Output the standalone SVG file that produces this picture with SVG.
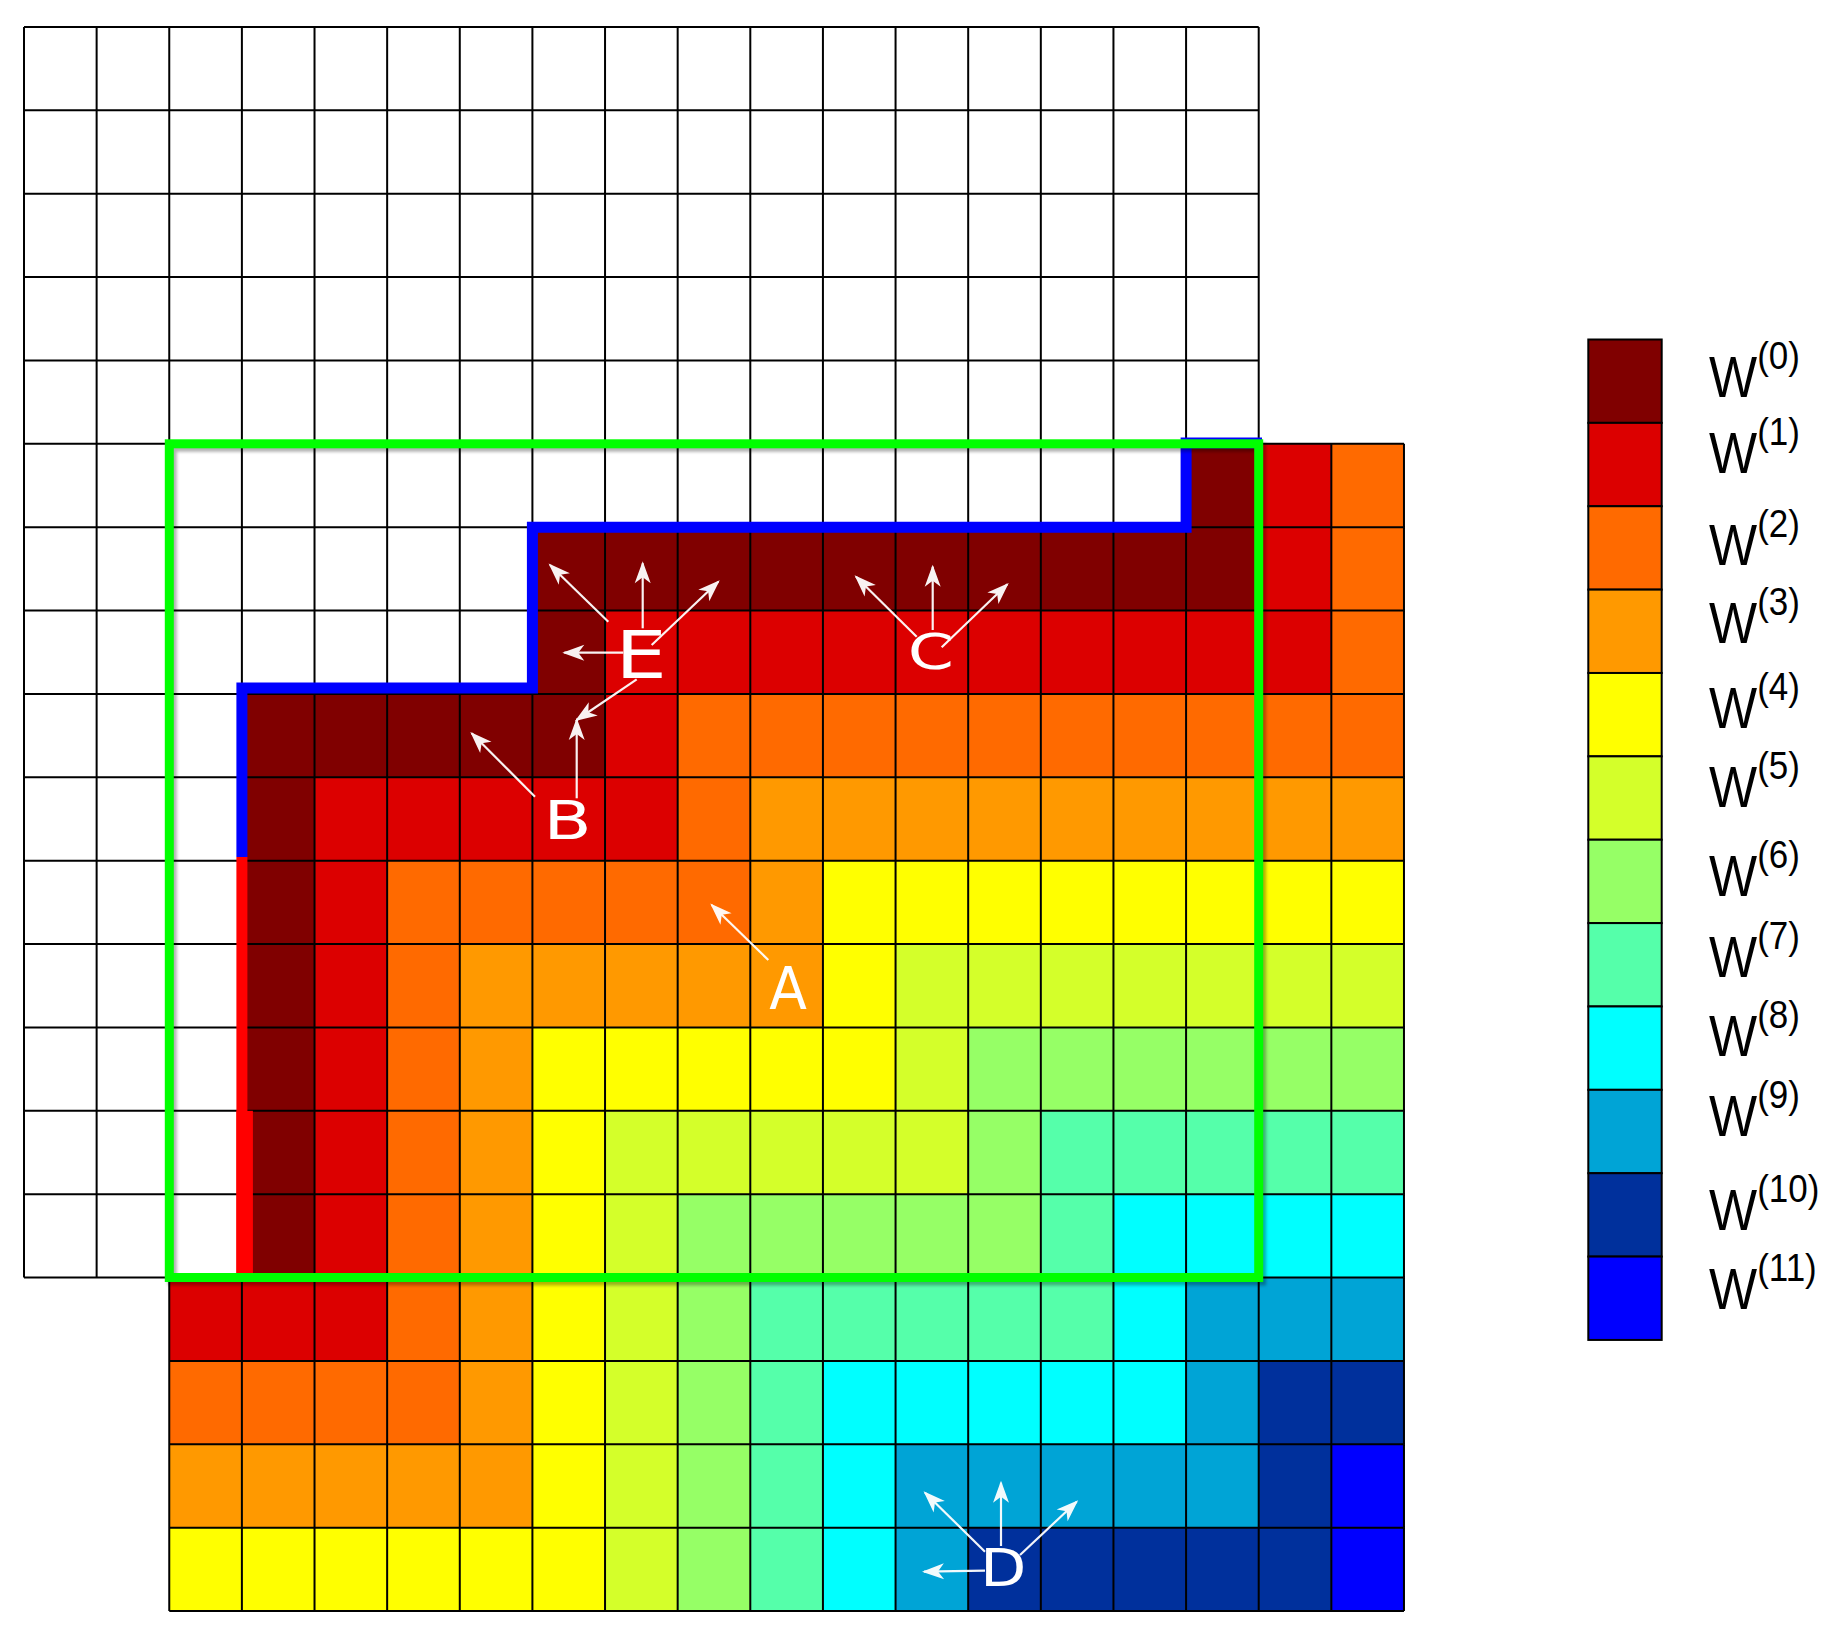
<svg xmlns="http://www.w3.org/2000/svg" width="1843" height="1641" viewBox="0 0 1843 1641">
<style>
.c0{fill:#800000}.c1{fill:#dc0000}.c2{fill:#ff6a00}.c3{fill:#ff9900}.c4{fill:#ffff00}.c5{fill:#d4ff2a}
.c6{fill:#96ff66}.c7{fill:#55ffaa}.c8{fill:#00ffff}.c9{fill:#00a4d6}.c10{fill:#00309c}.c11{fill:#0000ff}
.grid{fill:none;stroke:#000;stroke-width:2;vector-effect:non-scaling-stroke}
.arr{stroke:#fff;stroke-width:2.2;fill:none;marker-end:url(#ah);opacity:0.95}
.lbl{fill:#fff;font-family:"DejaVu Sans",sans-serif;text-anchor:middle}
.leg{font-family:"Liberation Sans",Arial,sans-serif;font-size:51px;fill:#000}
.sup{font-size:35px}
.sw{stroke:#000;stroke-width:2}
</style>
<defs>
<marker id="ah" markerUnits="userSpaceOnUse" orient="auto" refX="0" refY="0" markerWidth="30" markerHeight="30" overflow="visible">
<path d="M2,0 L-20,-8 L-14,0 L-20,8 Z" fill="#fff"/>
</marker>
<filter id="sh" x="-5%" y="-5%" width="110%" height="110%"><feGaussianBlur stdDeviation="1.5"/></filter>
</defs>
<rect width="1843" height="1641" fill="#fff"/>
<g id="grid" transform="translate(24 27) scale(72.63 83.37)">
<g id="cells">
<rect x="16" y="5" width="1" height="1" class="c0"/><rect x="17" y="5" width="1" height="1" class="c1"/><rect x="18" y="5" width="1" height="1" class="c2"/>
<rect x="7" y="6" width="10" height="1" class="c0"/><rect x="17" y="6" width="1" height="1" class="c1"/><rect x="18" y="6" width="1" height="1" class="c2"/>
<rect x="7" y="7" width="1" height="1" class="c0"/><rect x="8" y="7" width="10" height="1" class="c1"/><rect x="18" y="7" width="1" height="1" class="c2"/>
<rect x="3" y="8" width="5" height="1" class="c0"/><rect x="8" y="8" width="1" height="1" class="c1"/><rect x="9" y="8" width="10" height="1" class="c2"/>
<rect x="3" y="9" width="1" height="1" class="c0"/><rect x="4" y="9" width="5" height="1" class="c1"/><rect x="9" y="9" width="1" height="1" class="c2"/><rect x="10" y="9" width="9" height="1" class="c3"/>
<rect x="3" y="10" width="1" height="1" class="c0"/><rect x="4" y="10" width="1" height="1" class="c1"/><rect x="5" y="10" width="5" height="1" class="c2"/><rect x="10" y="10" width="1" height="1" class="c3"/><rect x="11" y="10" width="8" height="1" class="c4"/>
<rect x="3" y="11" width="1" height="1" class="c0"/><rect x="4" y="11" width="1" height="1" class="c1"/><rect x="5" y="11" width="1" height="1" class="c2"/><rect x="6" y="11" width="5" height="1" class="c3"/><rect x="11" y="11" width="1" height="1" class="c4"/><rect x="12" y="11" width="7" height="1" class="c5"/>
<rect x="3" y="12" width="1" height="1" class="c0"/><rect x="4" y="12" width="1" height="1" class="c1"/><rect x="5" y="12" width="1" height="1" class="c2"/><rect x="6" y="12" width="1" height="1" class="c3"/><rect x="7" y="12" width="5" height="1" class="c4"/><rect x="12" y="12" width="1" height="1" class="c5"/><rect x="13" y="12" width="6" height="1" class="c6"/>
<rect x="3" y="13" width="1" height="1" class="c0"/><rect x="4" y="13" width="1" height="1" class="c1"/><rect x="5" y="13" width="1" height="1" class="c2"/><rect x="6" y="13" width="1" height="1" class="c3"/><rect x="7" y="13" width="1" height="1" class="c4"/><rect x="8" y="13" width="5" height="1" class="c5"/><rect x="13" y="13" width="1" height="1" class="c6"/><rect x="14" y="13" width="5" height="1" class="c7"/>
<rect x="3" y="14" width="1" height="1" class="c0"/><rect x="4" y="14" width="1" height="1" class="c1"/><rect x="5" y="14" width="1" height="1" class="c2"/><rect x="6" y="14" width="1" height="1" class="c3"/><rect x="7" y="14" width="1" height="1" class="c4"/><rect x="8" y="14" width="1" height="1" class="c5"/><rect x="9" y="14" width="5" height="1" class="c6"/><rect x="14" y="14" width="1" height="1" class="c7"/><rect x="15" y="14" width="4" height="1" class="c8"/>
<rect x="2" y="15" width="3" height="1" class="c1"/><rect x="5" y="15" width="1" height="1" class="c2"/><rect x="6" y="15" width="1" height="1" class="c3"/><rect x="7" y="15" width="1" height="1" class="c4"/><rect x="8" y="15" width="1" height="1" class="c5"/><rect x="9" y="15" width="1" height="1" class="c6"/><rect x="10" y="15" width="5" height="1" class="c7"/><rect x="15" y="15" width="1" height="1" class="c8"/><rect x="16" y="15" width="3" height="1" class="c9"/>
<rect x="2" y="16" width="4" height="1" class="c2"/><rect x="6" y="16" width="1" height="1" class="c3"/><rect x="7" y="16" width="1" height="1" class="c4"/><rect x="8" y="16" width="1" height="1" class="c5"/><rect x="9" y="16" width="1" height="1" class="c6"/><rect x="10" y="16" width="1" height="1" class="c7"/><rect x="11" y="16" width="5" height="1" class="c8"/><rect x="16" y="16" width="1" height="1" class="c9"/><rect x="17" y="16" width="2" height="1" class="c10"/>
<rect x="2" y="17" width="5" height="1" class="c3"/><rect x="7" y="17" width="1" height="1" class="c4"/><rect x="8" y="17" width="1" height="1" class="c5"/><rect x="9" y="17" width="1" height="1" class="c6"/><rect x="10" y="17" width="1" height="1" class="c7"/><rect x="11" y="17" width="1" height="1" class="c8"/><rect x="12" y="17" width="5" height="1" class="c9"/><rect x="17" y="17" width="1" height="1" class="c10"/><rect x="18" y="17" width="1" height="1" class="c11"/>
<rect x="2" y="18" width="6" height="1" class="c4"/><rect x="8" y="18" width="1" height="1" class="c5"/><rect x="9" y="18" width="1" height="1" class="c6"/><rect x="10" y="18" width="1" height="1" class="c7"/><rect x="11" y="18" width="1" height="1" class="c8"/><rect x="12" y="18" width="1" height="1" class="c9"/><rect x="13" y="18" width="5" height="1" class="c10"/><rect x="18" y="18" width="1" height="1" class="c11"/>
</g>
<path class="grid" d="M0 0V15M1 0V15M2 0V19M3 0V19M4 0V19M5 0V19M6 0V19M7 0V19M8 0V19M9 0V19M10 0V19M11 0V19M12 0V19M13 0V19M14 0V19M15 0V19M16 0V19M17 0V19M18 5V19M19 5V19
M0 0H17M0 1H17M0 2H17M0 3H17M0 4H17M0 5H19M0 6H19M0 7H19M0 8H19M0 9H19M0 10H19M0 11H19M0 12H19M0 13H19M0 14H19M0 15H19M2 16H19M2 17H19M2 18H19M2 19H19"/>
</g>
<g id="boundaries">
<path id="blue-front" d="M241.9 857V688H532.4V527.2H1186.1V443H1262" fill="none" stroke="#0000ff" stroke-width="11" stroke-linejoin="miter"/>
<path id="red-wall" d="M241.9 857V1277" fill="none" stroke="#ff0000" stroke-width="11"/>
<rect x="236.4" y="1110.8" width="16.5" height="166.7" fill="#ff0000"/>
<rect x="172.3" y="447.3" width="1089.4" height="833.7" fill="none" stroke="#000" stroke-opacity="0.3" stroke-width="9" filter="url(#sh)"/>
<rect id="green-box" x="169.3" y="443.8" width="1089.4" height="833.7" fill="none" stroke="#00ff00" stroke-width="9"/>
</g>
<g id="connectors">
<line class="arr" x1="608.3" y1="621.7" x2="550" y2="565"/>
<line class="arr" x1="642.7" y1="628.3" x2="642.7" y2="563.3"/>
<line class="arr" x1="651.7" y1="645" x2="718.3" y2="581.7"/>
<line class="arr" x1="623.3" y1="652.7" x2="564.3" y2="652.7"/>
<line class="arr" x1="636.7" y1="679.3" x2="576.7" y2="720"/>
<line class="arr" x1="535" y1="796.7" x2="471.7" y2="733.3"/>
<line class="arr" x1="576.7" y1="798.3" x2="576.7" y2="720"/>
<line class="arr" x1="916.7" y1="636.7" x2="856" y2="576.7"/>
<line class="arr" x1="932.7" y1="630" x2="932.7" y2="566.7"/>
<line class="arr" x1="941.7" y1="647.3" x2="1007.3" y2="584.3"/>
<line class="arr" x1="768.3" y1="960" x2="711.7" y2="905"/>
<line class="arr" x1="985" y1="1551.7" x2="925" y2="1492.7"/>
<line class="arr" x1="1001" y1="1546" x2="1001" y2="1482.7"/>
<line class="arr" x1="1020" y1="1555" x2="1076.7" y2="1501.7"/>
<line class="arr" x1="985" y1="1570.7" x2="924" y2="1571.7"/>
</g>
<g id="labels">
<g id="label-E"><text class="lbl" font-size="66" transform="translate(641.2 678.3) scale(1.23 1)">E</text></g>
<g id="label-B"><text class="lbl" font-size="54" transform="translate(567.5 839.3) scale(1.3 1)">B</text></g>
<g id="label-C"><text class="lbl" font-size="49" transform="translate(930.8 669) scale(1.35 1)">C</text></g>
<g id="label-A"><text class="lbl" font-size="58" transform="translate(788 1009.3) scale(0.95 1)">A</text></g>
<g id="label-D"><text class="lbl" font-size="52" transform="translate(1003.3 1586) scale(1.15 1)">D</text></g>
</g>
<g id="legend">
<rect class="c0 sw" x="1588.3" y="339.5" width="73.4" height="83.37"/>
<rect class="c1 sw" x="1588.3" y="422.87" width="73.4" height="83.37"/>
<rect class="c2 sw" x="1588.3" y="506.24" width="73.4" height="83.37"/>
<rect class="c3 sw" x="1588.3" y="589.61" width="73.4" height="83.37"/>
<rect class="c4 sw" x="1588.3" y="672.98" width="73.4" height="83.37"/>
<rect class="c5 sw" x="1588.3" y="756.35" width="73.4" height="83.37"/>
<rect class="c6 sw" x="1588.3" y="839.72" width="73.4" height="83.37"/>
<rect class="c7 sw" x="1588.3" y="923.09" width="73.4" height="83.37"/>
<rect class="c8 sw" x="1588.3" y="1006.46" width="73.4" height="83.37"/>
<rect class="c9 sw" x="1588.3" y="1089.83" width="73.4" height="83.37"/>
<rect class="c10 sw" x="1588.3" y="1173.2" width="73.4" height="83.37"/>
<rect class="c11 sw" x="1588.3" y="1256.57" width="73.4" height="83.37"/>
<text class="leg" transform="translate(1709 397) scale(1 1.115)">W<tspan class="sup" dy="-25">(0)</tspan></text>
<text class="leg" transform="translate(1709 473) scale(1 1.115)">W<tspan class="sup" dy="-25">(1)</tspan></text>
<text class="leg" transform="translate(1709 565) scale(1 1.115)">W<tspan class="sup" dy="-25">(2)</tspan></text>
<text class="leg" transform="translate(1709 643) scale(1 1.115)">W<tspan class="sup" dy="-25">(3)</tspan></text>
<text class="leg" transform="translate(1709 728) scale(1 1.115)">W<tspan class="sup" dy="-25">(4)</tspan></text>
<text class="leg" transform="translate(1709 807) scale(1 1.115)">W<tspan class="sup" dy="-25">(5)</tspan></text>
<text class="leg" transform="translate(1709 896) scale(1 1.115)">W<tspan class="sup" dy="-25">(6)</tspan></text>
<text class="leg" transform="translate(1709 977) scale(1 1.115)">W<tspan class="sup" dy="-25">(7)</tspan></text>
<text class="leg" transform="translate(1709 1056) scale(1 1.115)">W<tspan class="sup" dy="-25">(8)</tspan></text>
<text class="leg" transform="translate(1709 1136) scale(1 1.115)">W<tspan class="sup" dy="-25">(9)</tspan></text>
<text class="leg" transform="translate(1709 1230) scale(1 1.115)">W<tspan class="sup" dy="-25">(10)</tspan></text>
<text class="leg" transform="translate(1709 1309) scale(1 1.115)">W<tspan class="sup" dy="-25">(11)</tspan></text>
</g>
</svg>
